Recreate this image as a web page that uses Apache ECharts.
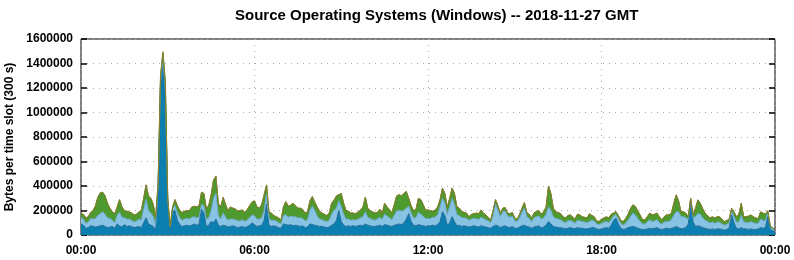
<!DOCTYPE html>
<html><head><meta charset="utf-8">
<script src="https://cdn.jsdelivr.net/npm/echarts@6/dist/echarts.min.js"></script>
<style>html,body{margin:0;padding:0;background:#fff}#c{width:794px;height:260px}</style>
</head><body><div id="c"></div>
<script>
// values in thousands of bytes per 5-minute slot (289 points: 00:00 .. 24:00)
const UNIT = 1000;
const titleText = "Source Operating Systems (Windows) -- 2018-11-27 GMT";
const yAxisTitle = "Bytes per time slot (300 s)";
const xTickLabels = ["00:00", "06:00", "12:00", "18:00", "00:00"];

const darkBlueK = [
 90,80,55,60,75,70,65,70,75,80,70,60,
 65,70,55,90,75,65,85,70,75,70,60,65,
 70,60,100,140,90,80,70,40,380,1220,1380,1150,
 260,60,190,200,120,85,70,75,80,75,80,90,
 80,90,210,180,70,80,110,100,130,80,70,80,
 75,65,70,75,70,60,65,70,60,70,80,100,
 85,70,75,80,120,250,80,70,75,70,60,55,
 90,85,80,85,75,80,75,70,75,60,65,90,
 85,80,75,70,70,65,60,65,80,90,120,200,
 110,80,70,75,70,75,70,75,80,75,90,80,
 75,70,70,75,80,70,85,80,75,70,80,85,
 90,85,100,130,175,110,80,75,85,80,75,70,
 75,75,80,75,85,110,190,160,80,100,150,110,
 75,80,70,75,70,65,70,75,70,65,75,70,
 65,60,55,70,80,75,60,70,75,65,60,70,
 55,55,65,75,80,70,65,55,65,70,75,60,
 65,80,110,90,70,65,60,60,55,50,55,60,
 55,50,60,55,55,50,50,55,60,60,50,45,
 50,55,60,55,80,120,137,90,55,45,50,60,
 65,70,65,55,50,45,45,50,55,50,55,60,
 50,45,50,55,50,55,60,70,60,50,55,60,
 90,270,110,70,75,70,60,55,50,45,50,45,
 50,50,45,40,45,60,165,100,55,50,60,50,
 50,45,50,45,45,50,60,55,60,150,50,35,
 30];

const lightBlueK = [
 50,50,40,45,60,60,70,90,100,110,100,80,
 70,50,45,70,110,80,55,60,55,50,45,50,
 60,60,110,150,110,100,80,40,20,40,50,50,
 20,5,20,40,60,55,50,55,55,55,65,60,
 60,55,40,60,60,60,90,200,210,80,60,100,
 70,55,60,55,55,55,50,55,50,55,60,65,
 70,60,55,60,80,90,55,50,45,45,40,35,
 70,80,65,70,75,70,65,70,60,55,60,110,
 150,120,80,60,55,50,50,55,90,110,100,80,
 120,90,60,55,50,50,50,55,60,75,100,65,
 60,55,50,55,65,55,85,75,65,55,80,110,
 110,110,100,90,60,70,60,65,100,90,80,65,
 60,60,65,70,80,120,110,100,90,130,150,140,
 90,80,70,65,65,55,60,60,65,60,70,65,
 60,55,45,90,170,130,90,120,120,90,85,85,
 60,55,75,110,140,80,70,55,75,80,80,70,
 75,90,120,110,80,70,70,65,55,50,60,60,
 55,45,60,60,55,55,50,55,60,55,40,40,
 45,50,50,45,45,35,30,40,40,35,45,60,
 85,110,100,80,60,45,45,55,70,60,60,65,
 50,45,55,55,60,70,100,120,130,100,95,80,
 40,15,30,80,100,100,80,65,60,55,55,50,
 55,55,45,40,40,40,30,50,50,55,100,55,
 55,55,60,55,50,45,70,65,55,30,20,15,
 12];

const greenK = [
 32,37,42,42,47,67,102,147,167,157,147,117,
 82,67,72,67,102,82,57,62,57,57,57,52,
 57,77,87,117,117,117,97,67,17,37,57,47,
 17,5,17,47,57,57,62,62,62,67,82,82,
 87,92,97,97,87,97,127,147,137,97,97,127,
 102,77,97,87,87,77,82,77,72,82,97,102,
 122,97,87,107,127,67,52,57,37,32,37,32,
 67,106,87,87,107,87,77,77,72,62,62,77,
 77,67,72,62,52,52,47,57,87,82,97,47,
 107,87,67,62,57,52,52,57,62,77,117,72,
 62,62,57,52,62,52,87,72,67,52,87,122,
 127,122,137,133,62,57,57,67,112,117,92,67,
 67,62,47,57,62,57,81,77,57,67,81,87,
 62,57,52,42,42,27,37,37,42,47,50,42,
 37,27,17,37,37,32,27,27,27,22,27,27,
 22,17,27,32,43,32,32,27,37,42,42,37,
 47,57,167,137,67,52,52,47,37,37,42,42,
 37,32,47,47,37,37,37,62,37,32,22,24,
 32,32,37,37,42,22,22,27,22,27,37,47,
 62,64,67,62,52,32,32,42,52,52,52,52,
 47,32,42,52,52,52,97,136,87,37,37,37,
 17,13,22,67,110,87,72,57,47,37,42,42,
 42,42,37,27,32,27,21,37,42,62,97,42,
 42,52,52,47,42,37,57,57,52,17,7,5,
 5];

const orangeK = [
 3,3,3,3,3,3,3,3,3,3,3,3,
 3,3,3,3,3,3,3,3,3,3,3,3,
 3,3,3,3,3,3,3,3,3,6,10,6,
 3,2,3,3,3,3,3,3,3,3,3,3,
 3,3,3,3,3,3,3,3,3,3,3,3,
 3,3,3,3,3,3,3,3,3,3,3,3,
 3,3,3,3,3,3,3,3,3,3,3,3,
 3,3,3,3,3,3,3,3,3,3,3,3,
 3,3,3,3,3,3,3,3,3,3,3,3,
 3,3,3,3,3,3,3,3,3,3,3,3,
 3,3,3,3,3,3,3,3,3,3,3,3,
 3,3,3,3,3,3,3,3,3,3,3,3,
 3,3,3,3,3,3,3,3,3,3,3,3,
 3,3,3,3,3,3,3,3,3,3,10,3,
 3,3,3,3,3,3,3,3,3,3,3,3,
 3,3,3,3,3,3,3,3,3,3,3,3,
 3,3,3,3,3,3,3,3,3,3,3,3,
 3,3,3,3,3,3,3,3,3,3,3,3,
 3,3,3,3,3,3,3,3,3,3,3,3,
 3,3,3,3,3,3,3,3,3,3,3,3,
 3,3,3,3,3,3,3,3,3,3,3,3,
 3,3,3,3,3,3,3,3,3,3,3,3,
 3,3,3,3,3,3,3,3,3,3,3,3,
 3,3,3,3,3,3,3,3,3,3,3,3,
 2];

// 5-minute slot labels 00:00 .. 24:00 (the last one shown as 00:00)
const slotLabels = darkBlueK.map((_, i) => {
  const m = (i * 5) % 1440;
  return String(Math.floor(m / 60)).padStart(2, '0') + ':' + String(m % 60).padStart(2, '0');
});

const seriesDefs = [
  {name: "Windows A", vals: darkBlueK, fill: "#0a7fb0", edge: "#226a98"},
  {name: "Windows B", vals: lightBlueK, fill: "#88c3e4", edge: "#6aa6cf"},
  {name: "Windows C", vals: greenK, fill: "#4e9a2e", edge: "#3f8524"},
  {name: "Windows D", vals: orangeK, fill: "#c8862c", edge: "#8f7f2f"}
];

const FONT = "Liberation Sans";
const chart = echarts.init(document.getElementById('c'), null, {renderer: 'canvas'});
chart.setOption({
  animation: false,
  backgroundColor: '#fff',
  title: {text: titleText, left: 230, top: 3,
    textStyle: {fontFamily: FONT, fontWeight: 'bold', fontSize: 15, color: '#000'}},
  grid: {left: 81, right: 19, top: 39, bottom: 25, show: true, borderColor: '#000', borderWidth: 1,
    backgroundColor: 'transparent', containLabel: false, outerBoundsMode: 'none'},
  xAxis: {type: 'category', data: slotLabels, boundaryGap: false,
    axisLine: {show: false}, axisTick: {show: false},
    axisLabel: {interval: 71, margin: 10, fontFamily: FONT, fontWeight: 'bold', fontSize: 12, color: '#000',
      showMinLabel: true, showMaxLabel: true},
    splitLine: {show: true, interval: 71, lineStyle: {color: '#aaa', type: [1, 5], width: 1}}},
  yAxis: [{type: 'value', min: 0, max: 1600000, interval: 200000,
    name: yAxisTitle, nameLocation: 'middle', nameGap: 60, nameRotate: 90,
    nameTextStyle: {fontFamily: FONT, fontWeight: 'bold', fontSize: 12, color: '#000'},
    axisLine: {show: false},
    axisTick: {show: true, inside: true, length: 6, lineStyle: {color: '#000', width: 1.5}},
    axisLabel: {margin: 8, fontFamily: FONT, fontWeight: 'bold', fontSize: 12, color: '#000',
      formatter: v => String(v)},
    splitLine: {show: true, lineStyle: {color: '#aaa', type: [1, 5], width: 1}}},
   {type: 'value', min: 0, max: 1600000, interval: 200000, position: 'right',
    axisLine: {show: false}, axisLabel: {show: false}, splitLine: {show: false},
    axisTick: {show: true, inside: true, length: 6, lineStyle: {color: '#000', width: 1.5}}}],
  series: seriesDefs.map(s => ({
    name: s.name, type: 'line', stack: 'total', symbol: 'none', sampling: null,
    data: s.vals.map(v => v * UNIT),
    lineStyle: {color: s.edge, width: 1},
    areaStyle: {color: s.fill, opacity: 1},
    itemStyle: {color: s.fill},
    z: 2
  }))
});
</script></body></html>
